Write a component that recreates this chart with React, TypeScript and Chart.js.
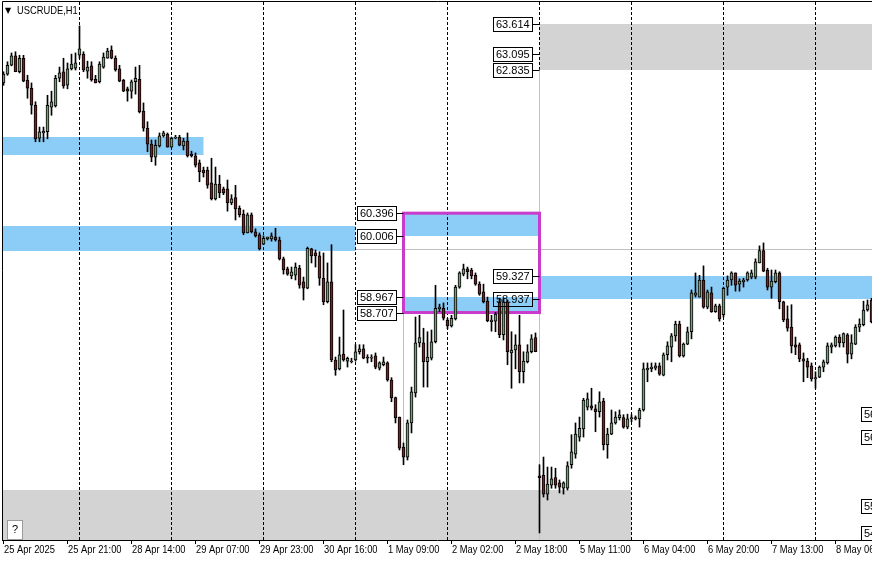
import { useEffect, useRef } from 'react'
import { Chart, registerables } from 'chart.js'

Chart.register(...registerables)

// USCRUDE H1 bars, 25 Apr 2025 05:00 onwards (one entry per bar)
const opens = [
  62.61, 62.76, 62.91, 63.07, 62.80, 63.03, 62.66, 62.52, 62.23, 61.67,
  61.76, 61.78, 62.20, 62.22, 62.69, 62.80, 62.57, 62.85, 62.86, 63.08,
  63.10, 62.81, 62.90, 62.67, 62.63, 62.88, 63.03, 63.17, 63.03, 62.85,
  62.66, 62.51, 62.47, 62.63, 62.67, 62.13, 61.84, 61.57, 61.35, 61.54,
  61.71, 61.74, 61.52, 61.67, 61.69, 61.54, 61.62, 61.40, 61.37, 61.25,
  61.13, 61.13, 60.91, 60.64, 60.89, 60.81, 60.81, 60.57, 60.66, 60.48,
  60.38, 60.06, 60.37, 60.08, 60.03, 59.87, 59.96, 59.96, 59.99, 59.94,
  59.62, 59.45, 59.33, 59.34, 59.46, 59.23, 59.12, 59.79, 59.72, 59.67,
  59.29, 58.89, 59.23, 57.90, 57.75, 58.00, 57.88, 57.87, 57.90, 58.04,
  58.09, 57.95, 57.93, 57.97, 57.76, 57.82, 57.85, 57.56, 57.26, 56.93,
  56.42, 56.25, 56.83, 57.34, 58.19, 58.19, 57.87, 57.93, 58.21, 58.77,
  58.78, 58.58, 58.48, 58.60, 59.14, 59.36, 59.45, 59.43, 59.34, 59.19,
  59.06, 58.90, 58.55, 58.56, 58.89, 58.33, 58.89, 58.02, 58.07, 58.16,
  57.70, 57.87, 58.04, 58.28, 55.93, 55.94, 55.62, 55.77, 55.90, 55.81,
  55.72, 55.72, 56.12, 56.30, 56.59, 56.73, 57.10, 57.12, 57.07, 57.02,
  57.20, 56.46, 56.64, 56.83, 56.92, 56.92, 56.76, 56.90, 56.90, 56.90,
  57.05, 57.73, 57.75, 57.76, 57.80, 57.64, 57.99, 58.12, 58.31, 58.51,
  57.97, 58.17, 58.38, 59.00, 58.97, 59.26, 58.80, 59.04, 58.72, 58.82,
  58.67, 59.14, 59.26, 59.38, 59.19, 59.23, 59.26, 59.31, 59.31, 59.55,
  59.76, 59.43, 59.14, 59.23, 59.38, 58.89, 58.60, 58.46, 58.16, 58.16,
  57.92, 57.88, 57.80, 57.58, 57.61, 57.78, 57.85, 58.12, 58.14, 58.29,
  58.19, 58.33, 58.00, 58.17, 58.46, 58.50, 58.75, 58.92,
]

const highs = [
  62.80, 62.97, 63.12, 63.14, 63.08, 63.08, 62.74, 62.61, 62.29, 61.86,
  61.86, 62.40, 62.47, 62.74, 62.88, 63.03, 62.95, 63.10, 63.12, 63.58,
  63.14, 62.98, 62.97, 62.74, 62.97, 63.12, 63.20, 63.24, 63.07, 62.91,
  62.67, 62.54, 62.66, 62.88, 62.91, 62.27, 61.95, 61.64, 61.64, 61.76,
  61.79, 61.76, 61.69, 61.72, 61.72, 61.67, 61.76, 61.45, 61.42, 61.30,
  61.18, 61.18, 61.33, 61.18, 61.04, 60.84, 60.96, 60.71, 60.87, 60.52,
  60.45, 60.40, 60.40, 60.13, 60.06, 60.01, 59.99, 60.06, 60.14, 59.99,
  59.65, 59.48, 59.48, 59.55, 59.51, 59.31, 59.82, 59.80, 59.77, 59.74,
  59.72, 59.55, 59.86, 57.95, 58.29, 58.75, 57.95, 57.93, 58.16, 58.16,
  58.16, 57.99, 57.99, 58.02, 57.87, 57.95, 57.87, 57.60, 57.27, 56.93,
  56.49, 56.88, 57.44, 58.63, 58.66, 58.44, 58.38, 58.41, 59.17, 58.85,
  58.87, 58.61, 58.66, 59.17, 59.40, 59.53, 59.48, 59.46, 59.38, 59.23,
  59.19, 58.97, 58.66, 58.71, 58.95, 58.95, 58.92, 58.38, 58.33, 58.66,
  58.04, 58.16, 58.33, 58.36, 56.12, 56.25, 56.08, 56.08, 56.06, 55.86,
  55.83, 56.17, 56.63, 56.83, 56.93, 57.25, 57.34, 57.42, 57.14, 57.36,
  57.25, 56.74, 57.05, 57.02, 57.05, 56.97, 56.98, 56.97, 56.95, 57.08,
  57.85, 57.85, 57.85, 57.85, 57.85, 58.02, 58.21, 58.35, 58.56, 58.56,
  58.19, 58.46, 59.09, 59.38, 59.34, 59.50, 59.09, 59.14, 58.85, 58.85,
  59.14, 59.33, 59.40, 59.38, 59.28, 59.29, 59.40, 59.43, 59.62, 59.84,
  59.89, 59.46, 59.43, 59.43, 59.40, 58.90, 58.82, 58.84, 58.29, 58.19,
  58.02, 57.93, 57.85, 57.70, 57.80, 57.90, 58.19, 58.19, 58.31, 58.33,
  58.36, 58.35, 58.33, 58.50, 58.60, 58.90, 58.92, 58.95,
]

const lows = [
  62.57, 62.74, 62.90, 62.80, 62.78, 62.63, 62.35, 62.08, 61.61, 61.61,
  61.61, 61.66, 62.06, 62.20, 62.63, 62.52, 62.51, 62.83, 62.83, 63.03,
  62.80, 62.69, 62.64, 62.61, 62.61, 62.86, 63.03, 63.02, 62.81, 62.63,
  62.46, 62.30, 62.35, 62.42, 62.10, 61.79, 61.44, 61.27, 61.21, 61.52,
  61.69, 61.52, 61.52, 61.66, 61.54, 61.47, 61.35, 61.35, 61.18, 60.93,
  61.01, 60.82, 60.62, 60.62, 60.66, 60.71, 60.43, 60.54, 60.28, 60.33,
  60.03, 60.06, 60.06, 59.99, 59.77, 59.86, 59.94, 59.92, 59.92, 59.60,
  59.36, 59.34, 59.28, 59.26, 59.12, 58.92, 59.11, 59.55, 59.48, 59.17,
  58.84, 58.87, 57.87, 57.64, 57.73, 57.88, 57.78, 57.85, 57.88, 58.00,
  57.92, 57.85, 57.87, 57.75, 57.73, 57.80, 57.54, 57.19, 56.83, 56.37,
  56.12, 56.20, 56.66, 57.27, 58.12, 57.44, 57.44, 57.90, 58.19, 58.72,
  58.58, 58.43, 58.46, 58.58, 59.12, 59.33, 59.28, 59.28, 59.17, 59.00,
  58.87, 58.55, 58.39, 58.38, 58.28, 58.24, 57.82, 57.42, 57.75, 57.51,
  57.51, 57.85, 58.02, 58.04, 54.96, 55.57, 55.52, 55.72, 55.72, 55.64,
  55.62, 55.69, 56.06, 56.23, 56.52, 56.59, 57.05, 57.05, 56.68, 56.93,
  56.37, 56.23, 56.63, 56.81, 56.88, 56.74, 56.73, 56.85, 56.88, 56.76,
  57.03, 57.53, 57.70, 57.73, 57.64, 57.63, 57.90, 57.87, 58.22, 57.95,
  57.95, 58.16, 58.26, 58.97, 58.97, 58.78, 58.77, 58.71, 58.71, 58.56,
  58.63, 59.00, 59.17, 59.07, 59.07, 59.14, 59.24, 59.28, 59.28, 59.55,
  59.40, 59.09, 58.95, 59.21, 58.77, 58.55, 58.39, 58.02, 57.99, 57.87,
  57.53, 57.60, 57.54, 57.42, 57.60, 57.70, 57.83, 58.02, 58.12, 58.12,
  58.12, 57.85, 57.92, 58.16, 58.38, 58.48, 58.73, 58.53,
]

const closes = [
  62.76, 62.91, 63.07, 62.80, 63.03, 62.64, 62.52, 62.23, 61.66, 61.78,
  61.79, 62.23, 62.29, 62.69, 62.78, 62.56, 62.85, 62.93, 62.95, 63.19,
  62.83, 62.88, 62.66, 62.61, 62.93, 63.05, 63.15, 63.03, 62.83, 62.64,
  62.47, 62.47, 62.63, 62.69, 62.12, 61.84, 61.57, 61.35, 61.55, 61.71,
  61.76, 61.52, 61.67, 61.69, 61.55, 61.62, 61.37, 61.37, 61.21, 61.10,
  61.08, 60.87, 60.64, 60.89, 60.74, 60.74, 60.57, 60.64, 60.47, 60.37,
  60.06, 60.37, 60.08, 60.01, 59.79, 59.97, 59.99, 60.01, 59.94, 59.62,
  59.43, 59.36, 59.40, 59.48, 59.17, 59.12, 59.80, 59.67, 59.67, 59.29,
  58.89, 59.23, 57.90, 57.73, 57.99, 57.90, 57.93, 57.88, 58.04, 58.09,
  57.93, 57.93, 57.95, 57.78, 57.85, 57.87, 57.56, 57.26, 56.92, 56.40,
  56.25, 56.83, 57.36, 58.19, 58.28, 57.87, 57.95, 58.21, 58.78, 58.80,
  58.61, 58.48, 58.61, 59.14, 59.38, 59.45, 59.40, 59.33, 59.19, 59.02,
  58.89, 58.57, 58.58, 58.68, 58.33, 58.89, 58.04, 58.07, 58.16, 57.70,
  57.88, 58.04, 58.26, 58.04, 55.90, 55.62, 55.79, 55.88, 55.77, 55.74,
  55.81, 56.10, 56.34, 56.64, 56.74, 57.22, 57.24, 57.08, 57.02, 57.19,
  56.46, 56.64, 56.83, 56.93, 56.97, 56.76, 56.90, 56.92, 56.92, 57.05,
  57.75, 57.76, 57.78, 57.80, 57.66, 57.99, 58.14, 58.31, 58.51, 57.97,
  58.17, 58.38, 59.04, 59.04, 59.26, 58.80, 59.06, 58.72, 58.82, 58.60,
  59.12, 59.26, 59.38, 59.17, 59.24, 59.26, 59.38, 59.38, 59.57, 59.76,
  59.41, 59.14, 59.24, 59.38, 58.89, 58.58, 58.44, 58.14, 58.12, 57.92,
  57.88, 57.78, 57.58, 57.60, 57.78, 57.87, 58.14, 58.16, 58.29, 58.19,
  58.35, 58.00, 58.19, 58.46, 58.51, 58.75, 58.84, 58.55,
]

// time axis: bar index of each label, and the label text
const labelBars = [0, 16, 32, 48, 64, 80, 96, 112, 128, 144, 160, 176, 192, 208]
const timeLabels = [
  '25 Apr 2025', '25 Apr 21:00', '28 Apr 14:00', '29 Apr 07:00', '29 Apr 23:00',
  '30 Apr 16:00', '1 May 09:00', '2 May 02:00', '2 May 18:00', '5 May 11:00',
  '6 May 04:00', '6 May 20:00', '7 May 13:00', '8 May 06:00',
]

// first bar of each new day (period separators)
const daySeparators = [19, 42, 65, 88, 111, 134, 157, 180, 203]

// rectangles: bar range and price range
const blueZones = [
  { from: -10, to: 50, high: 61.69, low: 61.39 },
  { from: -10, to: 88, high: 60.18, low: 59.75 },
  { from: 100, to: 134, high: 60.396, low: 60.006 },
  { from: 100, to: 134, high: 58.967, low: 58.707 },
  { from: 134, to: 240, high: 59.327, low: 58.937 },
]
const greyZones = [
  { from: -10, to: 157, high: 55.69, low: 54.0 },
  { from: 134, to: 240, high: 63.614, low: 62.835 },
]
const boxZone = { from: 100, to: 134, high: 60.396, low: 58.707 }

// price tags (drawn left of their anchor bar)
const priceTags = [
  { price: 60.396, bar: 100 },
  { price: 60.006, bar: 100 },
  { price: 58.967, bar: 100 },
  { price: 58.707, bar: 100 },
  { price: 63.614, bar: 134 },
  { price: 63.095, bar: 134 },
  { price: 62.835, bar: 134 },
  { price: 59.327, bar: 134 },
  { price: 58.937, bar: 134 },
  { price: 56.98, bar: 226 },
  { price: 56.589, bar: 226 },
  { price: 55.418, bar: 226 },
  { price: 54.962, bar: 226 },
]

const priceLine = 59.787
const verticalLines = [
  { bar: 100, high: 58.707, low: 56.2, color: '#a9c4d8' },
  { bar: 134, high: 62.835, low: 54.0, color: '#c4c4c4' },
]

const BULL = '#769c78'
const BEAR = '#742424'
const FONT = '"Liberation Sans", Arial, sans-serif'
// the terminal's tahoma-like font is narrower than anything installed
const SQUEEZE = 0.85

const drawNarrow = (ctx: CanvasRenderingContext2D, text: string, x: number, y: number) => {
  ctx.save()
  ctx.translate(x, y)
  ctx.scale(SQUEEZE, 1)
  ctx.fillText(text, 0, 0)
  ctx.restore()
}

const objectsPlugin = {
  id: 'mtObjects',
  beforeDatasetsDraw(chart: any) {
    const { ctx, chartArea: a, scales } = chart
    const x = scales.x
    const y = scales.y
    ctx.save()
    ctx.beginPath()
    ctx.rect(a.left, a.top, a.right - a.left, a.bottom - a.top)
    ctx.clip()

    // horizontal price line
    const hy = Math.round(y.getPixelForValue(priceLine)) + 0.5
    ctx.strokeStyle = '#c0c0c0'
    ctx.lineWidth = 1
    ctx.beginPath()
    ctx.moveTo(a.left, hy)
    ctx.lineTo(a.right, hy)
    ctx.stroke()

    const fillZone = (z: any, color: string) => {
      const x0 = x.getPixelForValue(z.from)
      const x1 = x.getPixelForValue(z.to)
      const y0 = Math.round(y.getPixelForValue(z.high))
      const y1 = Math.round(y.getPixelForValue(z.low))
      ctx.fillStyle = color
      ctx.fillRect(x0, y0, x1 - x0, y1 - y0)
    }
    greyZones.forEach((z) => fillZone(z, '#d3d3d3'))
    blueZones.forEach((z) => fillZone(z, '#8ccdf7'))

    // day separators
    ctx.strokeStyle = '#000'
    ctx.setLineDash([3, 2])
    daySeparators.forEach((b) => {
      const sx = Math.round(x.getPixelForValue(b) - 0.5) + 0.5
      ctx.beginPath()
      ctx.moveTo(sx, a.top)
      ctx.lineTo(sx, a.bottom)
      ctx.stroke()
    })
    ctx.setLineDash([])

    verticalLines.forEach((v) => {
      const vx = Math.round(x.getPixelForValue(v.bar) - 0.5) + 0.5
      ctx.strokeStyle = v.color
      ctx.beginPath()
      ctx.moveTo(vx, y.getPixelForValue(v.high))
      ctx.lineTo(vx, y.getPixelForValue(v.low))
      ctx.stroke()
    })

    // magenta box
    const bx0 = x.getPixelForValue(boxZone.from)
    const bx1 = x.getPixelForValue(boxZone.to)
    const by0 = y.getPixelForValue(boxZone.high)
    const by1 = y.getPixelForValue(boxZone.low)
    ctx.strokeStyle = '#c93ccb'
    ctx.lineWidth = 3
    ctx.strokeRect(bx0, by0, bx1 - bx0, by1 - by0)
    ctx.restore()
  },
  afterDatasetsDraw(chart: any) {
    const { ctx, chartArea: a, scales } = chart
    const x = scales.x
    const y = scales.y
    ctx.save()
    ctx.font = `11px ${FONT}`
    ctx.textBaseline = 'middle'
    ctx.lineWidth = 1
    ctx.strokeStyle = '#000'
    ctx.fillStyle = '#000'
    priceTags.forEach((t) => {
      const text = t.price.toFixed(3)
      const ax = Math.round(x.getPixelForValue(t.bar) - 0.5)
      const ty = Math.round(y.getPixelForValue(t.price)) + 0.5
      const w = Math.ceil(ctx.measureText(text).width) + 5
      const right = ax - 7
      ctx.strokeRect(right - w + 0.5, ty - 7, w, 14)
      ctx.beginPath()
      ctx.moveTo(right + 0.5, ty)
      ctx.lineTo(ax + 0.5, ty)
      ctx.stroke()
      ctx.fillText(text, right - w + 3, ty + 0.5)
    })

    // chart frame
    ctx.beginPath()
    ctx.moveTo(a.left + 0.5, a.bottom)
    ctx.lineTo(a.left + 0.5, a.top - 0.5)
    ctx.lineTo(a.right, a.top - 0.5)
    ctx.stroke()

    // symbol title
    ctx.font = `8px "DejaVu Sans", sans-serif`
    ctx.fillText('▼', 5, 11)
    ctx.font = `11px ${FONT}`
    drawNarrow(ctx, 'USCRUDE,H1', 17, 11)

    // time labels, left-aligned on their axis ticks
    ctx.textAlign = 'left'
    timeLabels.forEach((label, i) => {
      drawNarrow(ctx, label, Math.round(x.getPixelForValue(labelBars[i])), a.bottom + 10)
    })

    // help button
    ctx.fillStyle = '#fff'
    ctx.fillRect(7, 520, 15, 20)
    ctx.strokeStyle = '#9a9a9a'
    ctx.strokeRect(7.5, 520.5, 15, 19)
    ctx.fillStyle = '#000'
    ctx.textAlign = 'center'
    ctx.fillText('?', 15, 530)
    ctx.restore()
  },
}

export default function App() {
  const canvasRef = useRef<HTMLCanvasElement | null>(null)
  const chartRef = useRef<Chart | null>(null)

  useEffect(() => {
    if (!canvasRef.current) return
    if (chartRef.current) chartRef.current.destroy()

    const ctx = canvasRef.current.getContext('2d')
    if (!ctx) return

    chartRef.current = new Chart(ctx, {
      type: 'bar',
      data: {
        datasets: [
          {
            label: 'body',
            data: opens.map((o, i) => ({ x: i, y: [o, closes[i]] })) as any,
            backgroundColor: opens.map((o, i) => (closes[i] >= o ? BULL : BEAR)),
            borderColor: '#000',
            borderWidth: 1,
            borderSkipped: false,
            barThickness: 3,
            grouped: false,
            order: 0,
          },
          {
            label: 'wick',
            data: lows.map((l, i) => ({ x: i, y: [l, highs[i]] })) as any,
            backgroundColor: '#000',
            borderWidth: 0,
            barThickness: 1,
            grouped: false,
            order: 1,
          },
        ],
      },
      options: {
        responsive: false,
        animation: false,
        events: [],
        layout: { padding: { left: 2, top: 2, right: 0, bottom: 0 } },
        plugins: {
          legend: { display: false },
          tooltip: { enabled: false },
        },
        scales: {
          x: {
            type: 'linear',
            min: -0.375,
            max: 217.125,
            offset: false,
            grid: {
              offset: false,
              drawOnChartArea: false,
              drawTicks: true,
              tickLength: 4,
              color: '#000',
            },
            border: { display: true, color: '#000' },
            afterBuildTicks: (axis: any) => {
              axis.ticks = labelBars.map((v) => ({ value: v }))
            },
            afterFit: (axis: any) => {
              axis.height = 22
              axis.paddingLeft = 0
              axis.paddingRight = 0
            },
            ticks: {
              display: false,
              autoSkip: false,
              maxRotation: 0,
              callback: (_v: any, index: number) => timeLabels[index],
            },
          },
          y: {
            display: false,
            min: 54.84,
            max: 63.986,
          },
        },
      },
      plugins: [objectsPlugin],
    })

    return () => {
      if (chartRef.current) {
        chartRef.current.destroy()
        chartRef.current = null
      }
    }
  }, [])

  return (
    <div style={{ position: 'fixed', left: 0, top: 0, width: 872, height: 562, background: '#fff' }}>
      <canvas ref={canvasRef} width={872} height={562} style={{ display: 'block' }}></canvas>
    </div>
  )
}
